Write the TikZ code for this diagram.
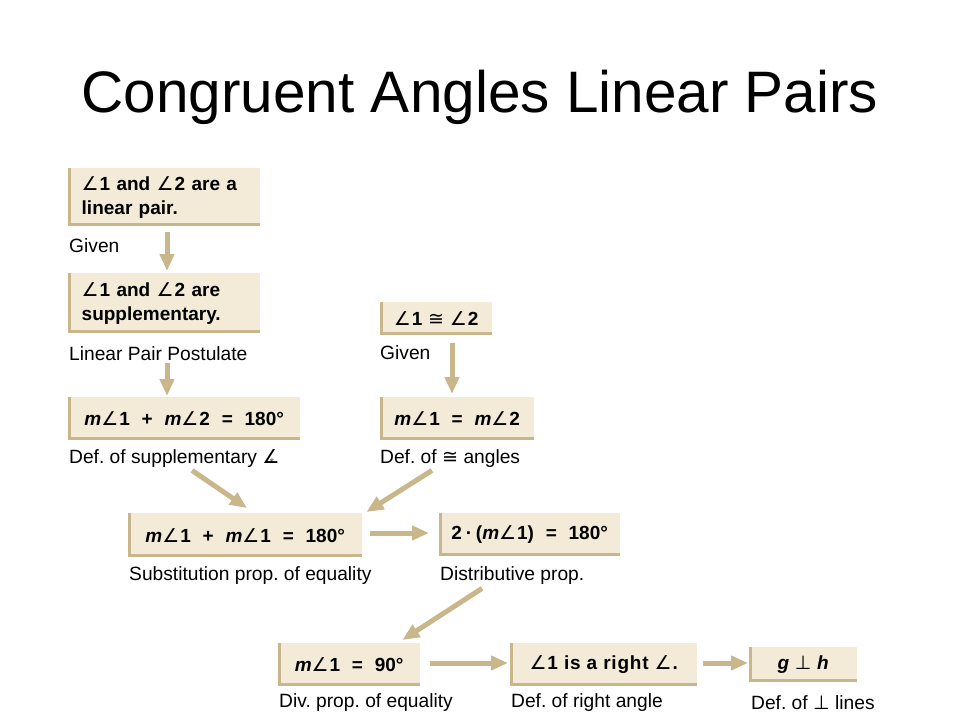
\documentclass[tikz,border=0pt]{standalone}
\usepackage{fontspec}
\setmainfont{Liberation Sans}
\newfontfamily\titlefont{Liberation Sans}
\newfontfamily\cfont{Liberation Sans}
\newfontfamily\symfont{DejaVu Sans}
\usetikzlibrary{arrows.meta,calc}
\frenchspacing
\definecolor{boxfill}{HTML}{F3EBD7}
\definecolor{tanc}{HTML}{C9B78B}
\newcommand\ang{{\symfont\mdseries ∠}\kern0.05em}
\newcommand\congsym{{\symfont\mdseries ≅}}
\newcommand\perpsym{{\symfont\mdseries ⊥}}
\newcommand\angsym{{\symfont\mdseries\rlap{∠}}\hspace{0.4em}{\fontsize{8}{8}\selectfont s}\hspace{0.3em}}
\newcommand\mm{\textit{m}}
\newcommand\op[1]{\hspace{0.62em}#1\hspace{0.62em}}
\tikzset{
  box/.style={fill=boxfill, inner sep=0pt, anchor=north west,
    font=\cfont\bfseries\fontsize{19}{24}\selectfont},
  lab/.style={anchor=base west, inner sep=0pt,
    font=\cfont\fontsize{19.2}{22}\selectfont},
  edgel/.style={draw=tanc, line width=3pt},
  arr/.style={draw=tanc, line width=5pt, -{Triangle[length=17pt,width=14pt]}},
}
\begin{document}
\begin{tikzpicture}[x=1pt,y=-1pt]
\useasboundingbox (0,0) rectangle (960,720);
\node[anchor=base, inner sep=0pt, font=\titlefont\fontsize{58.5}{60}\selectfont] (title) at (480,112) {Congruent Angles Linear Pairs};

\node[box, minimum width=192, minimum height=58, text width=165, align=left] (A) at (68,168) {\ang1 and \ang2 are a\\linear pair.};
\node[box, minimum width=192, minimum height=60, text width=165, align=left] (B) at (68,273) {\ang1 and \ang2 are\\supplementary.};
\node[box, minimum width=232, minimum height=43] (C) at (68,397) {\mm\ang1\op{+}\mm\ang2\op{=}180°};
\node[box, minimum width=112, minimum height=33] (D) at (380,302) {\ang1\hspace{0.3em}\congsym\hspace{0.3em}\ang2};
\node[box, minimum width=154, minimum height=43] (E) at (380,397) {\mm\ang1\op{=}\mm\ang2};
\node[box, minimum width=234, minimum height=44] (F) at (128,513) {\mm\ang1\op{+}\mm\ang1\op{=}180°};
\node[box, minimum width=181, minimum height=43] (G) at (439,513) {2\hspace{0.2em}·\hspace{0.2em}(\mm\ang1)\op{=}180°};
\node[box, minimum width=142, minimum height=43] (H) at (278,643) {\mm\ang1\op{=}90°};
\node[box, minimum width=187, minimum height=43] (I) at (510,643) {\addfontfeature{LetterSpace=4}\ang1 is a right \ang.};
\node[box, minimum width=108, minimum height=35] (J) at (749,647) {\textit{g}\hspace{0.3em}\perpsym\hspace{0.3em}\textit{h}};

\foreach \n in {A,B,C,D,E,F,G,H,I,J}
  \draw[edgel] ([xshift=1.5pt]\n.north west) -- ([xshift=1.5pt,yshift=1.5pt]\n.south west) -- ([yshift=1.5pt]\n.south east);

\node[lab] (Al) at (69,252) {Given};
\node[lab] (Bl) at (69,360) {Linear Pair Postulate};
\node[lab] (Cl) at (69,463) {Def. of supplementary \angsym};
\node[lab] (Dl) at (380,359) {Given};
\node[lab] (El) at (380,463) {Def. of \congsym\ angles};
\node[lab] (Fl) at (129,580) {Substitution prop. of equality};
\node[lab] (Gl) at (440,580) {Distributive prop.};
\node[lab] (Hl) at (279,707) {Div. prop. of equality};
\node[lab] (Il) at (511,707) {Def. of right angle};
\node[lab] (Jl) at (751,709) {Def. of \perpsym\ lines};

\draw[arr] ($(A.south west)+(99,6)$) -- ($(B.north west)+(99,-2)$);
\draw[arr] ($(B.south west)+(99,30)$) -- ($(C.north west)+(99,-1)$);
\draw[arr] ($(D.south west)+(72,8)$) -- ($(E.north west)+(72,-3)$);
\draw[arr] ($(C.south west)+(124,30)$) -- ($(F.north west)+(119,-5)$);
\draw[arr] ($(E.south west)+(52,30)$) -- ($(F.north east)+(4,-1)$);
\draw[arr] ($(F.north east)+(8,20)$) -- ($(G.north west)+(-10,20)$);
\draw[arr] ($(G.south west)+(43,32)$) -- ($(H.north east)+(-18,-3)$);
\draw[arr] ($(H.north east)+(10,20)$) -- ($(I.north west)+(-2,20)$);
\draw[arr] ($(I.north east)+(6,20)$) -- ($(J.north west)+(-1,16)$);
\end{tikzpicture}
\end{document}
